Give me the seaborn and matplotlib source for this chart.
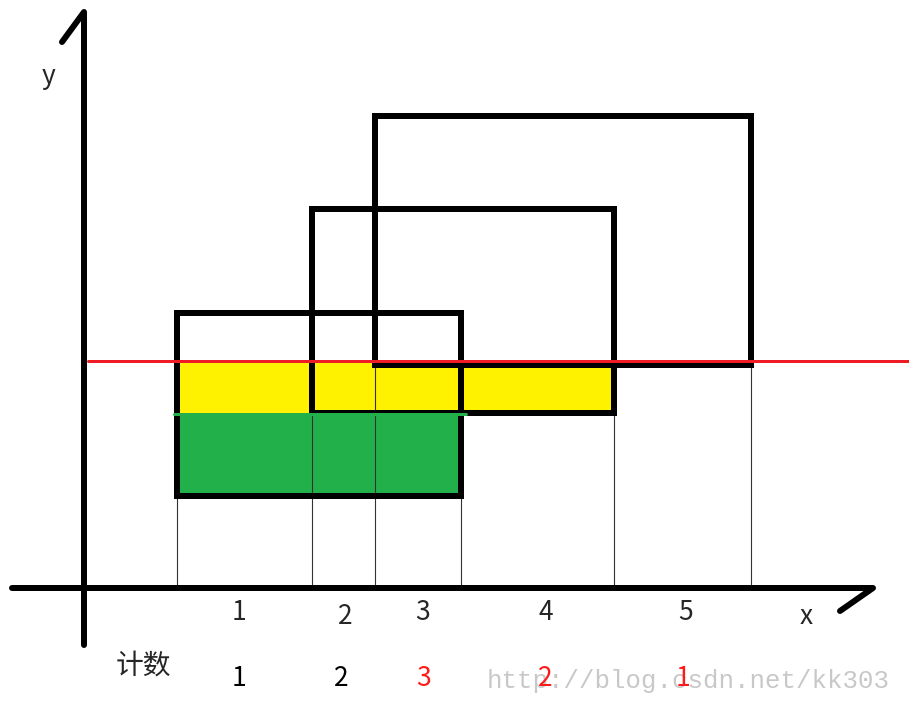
import matplotlib
matplotlib.use("Agg")
import matplotlib.pyplot as plt
import matplotlib.patches as mpatches
import seaborn as sns
import pandas as pd

# 三个矩形 (左, 上, 右, 下)，坐标按图上像素
rect_left = [177, 312, 375]
rect_top = [313, 209, 116]
rect_right = [461, 614, 751]
rect_bottom = [496, 413, 365]

# 扫描线位置
scan_y = 361

# 区间标签和计数
interval_labels = ["1", "2", "3", "4", "5"]
counts = [1, 2, 3, 2, 1]
count_colors = ["black", "black", "#ff1a1a", "#ff1a1a", "#ff1a1a"]

axis_y = 588
axis_x = 84

sns.set_style("white")
plt.rcParams["font.family"] = ["Noto Sans CJK SC", "DejaVu Sans"]

fig = plt.figure(figsize=(9.09, 7.04), dpi=100)
ax = fig.add_axes([0, 0, 1, 1])

thick = 6 * 72 / 100

# 黄色: 扫描线以下、被矩形覆盖部分
ax.add_patch(mpatches.Rectangle((rect_left[0], scan_y), rect_right[1] - rect_left[0],
                                rect_bottom[1] - scan_y, color="#fff200", lw=0, zorder=1))
# 绿色
ax.add_patch(mpatches.Rectangle((rect_left[0], rect_bottom[1]), rect_right[0] - rect_left[0],
                                rect_bottom[0] - rect_bottom[1], color="#22b04b", lw=0, zorder=1))

# 细竖线
for l, r, b in zip(rect_left, rect_right, rect_bottom):
    for xv in (l, r):
        ax.plot([xv, xv], [b, axis_y], color="#333333", lw=0.8, zorder=2)

# 黑色矩形
for l, t, r, b in zip(rect_left, rect_top, rect_right, rect_bottom):
    ax.add_patch(mpatches.Rectangle((l, t), r - l, b - t, fill=False, ec="black",
                                    lw=thick, joinstyle="miter", zorder=3))

# 绿色上边线
ax.plot([rect_left[0] - 3, rect_right[0] + 5], [rect_bottom[1] + 1, rect_bottom[1] + 1],
        color="#22b04b", lw=3 * 72 / 100, zorder=4)

# 红色扫描线
scan = pd.DataFrame({"x": [88, 909], "y": [scan_y, scan_y]})
sns.lineplot(data=scan, x="x", y="y", color="#ee1c24", lw=3 * 72 / 100, ax=ax, zorder=5)
ax.set_xlim(0, 909)
ax.set_ylim(704, 0)
ax.axis("off")

# 坐标轴
ax.plot([12, 873, 840], [axis_y, axis_y, 611], color="black", lw=thick,
        solid_capstyle="round", solid_joinstyle="round", zorder=6)
ax.plot([62, axis_x, axis_x], [42, 12, 645], color="black", lw=thick,
        solid_capstyle="round", solid_joinstyle="round", zorder=6)
ax.text(49, 77, "y", fontsize=19, ha="center", va="center")
ax.text(806, 616, "x", fontsize=19, ha="center", va="center")

# 区间编号和计数 (手写位置稍有偏移)
bounds = sorted(rect_left + rect_right)
label_dx = [-5, 2, 5, 8, 3]
label_dy = [0, 5, 0, 1, 0]
count_dx = [-5, -2, 6, 8, 1]
for i, (lab, c, col) in enumerate(zip(interval_labels, counts, count_colors)):
    xm = (bounds[i] + bounds[i + 1]) / 2
    ax.text(xm + label_dx[i], 612 + label_dy[i], lab, fontsize=19, ha="center",
            va="center", fontweight="medium")
    ax.text(xm + count_dx[i], 678, str(c), fontsize=19, ha="center", va="center",
            color=col, fontweight="medium")

ax.text(143, 666, "计数", fontsize=20, ha="center", va="center", fontweight="medium")

# 水印
ax.text(890, 681, "http://blog.csdn.net/kk303", fontsize=18.5, ha="right", va="center",
        color="#c8c8c8", family=["Liberation Mono", "DejaVu Sans"], zorder=0)

fig.savefig("out.png", dpi=100)
